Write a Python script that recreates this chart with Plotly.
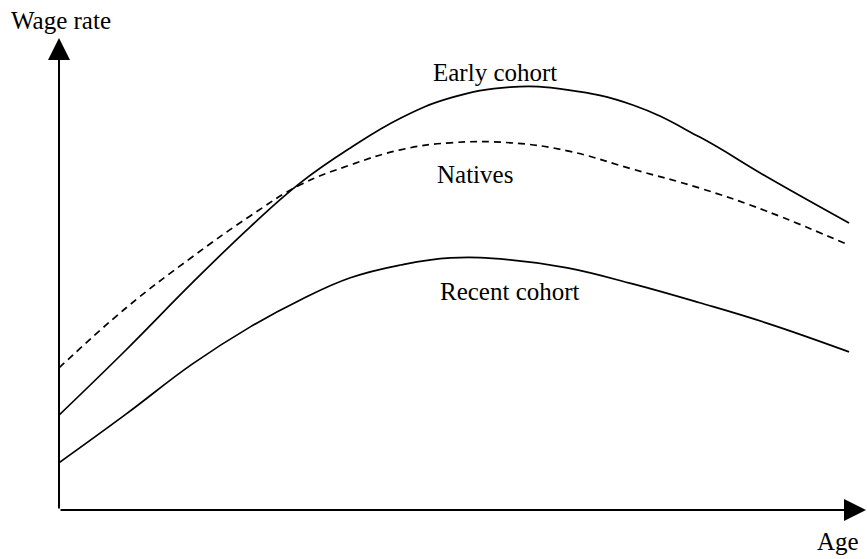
import plotly.graph_objects as go

# Age (arbitrary units, 0 = start of working life)
age = [0, 8.3, 16.5, 23.7, 29.9, 36.1, 42.3, 48.5, 55.9, 63.0, 71.1, 79.4, 87.7, 97.9]

# Wage rate profiles (arbitrary units)
early_cohort = [20.1, 33.9, 48.1, 60.0, 69.3, 76.7, 83.0, 87.3, 89.6, 89.0, 85.8, 79.0, 70.6, 60.8]
natives = [30.1, 42.8, 53.6, 62.3, 68.9, 73.1, 76.3, 77.8, 77.8, 76.1, 72.2, 68.2, 63.3, 56.1]
recent_cohort = [10.0, 20.3, 30.9, 38.8, 44.5, 49.2, 51.9, 53.4, 53.0, 51.3, 47.9, 43.9, 39.6, 33.5]

FONT = "Liberation Serif, Times New Roman, serif"

fig = go.Figure()

fig.add_trace(go.Scatter(x=age, y=early_cohort, mode="lines",
                         line=dict(color="black", width=1.7, shape="spline", smoothing=1.2),
                         name="Early cohort"))
fig.add_trace(go.Scatter(x=age, y=natives, mode="lines",
                         line=dict(color="black", width=1.7, dash="7px,5px", shape="spline", smoothing=1.2),
                         name="Natives"))
fig.add_trace(go.Scatter(x=age, y=recent_cohort, mode="lines",
                         line=dict(color="black", width=1.7, shape="spline", smoothing=1.2),
                         name="Recent cohort"))

# axes drawn as arrows
for x0, y0, x1, y1 in [(0, 0, 0, 100), (0, 0, 100, 0)]:
    fig.add_annotation(x=x1, y=y1, ax=x0, ay=y0, xref="x", yref="y", axref="x", ayref="y",
                       text="", showarrow=True, arrowhead=2, arrowsize=2.2,
                       arrowwidth=2, arrowcolor="black", standoff=0)

# axis titles (outside the plot area -> paper coords)
fig.add_annotation(x=0.0025, y=1.038, xref="paper", yref="paper", text="Wage rate",
                   xanchor="center", yanchor="middle", showarrow=False,
                   font=dict(family=FONT, size=25, color="black"))
fig.add_annotation(x=0.965, y=-0.066, xref="paper", yref="paper", text="Age",
                   xanchor="center", yanchor="middle", showarrow=False,
                   font=dict(family=FONT, size=25, color="black"))

labels = [
    ("Early cohort", 54.0, 92.6),
    ("Natives", 51.5, 71.0),
    ("Recent cohort", 55.9, 46.2),
]
for txt, x, y in labels:
    fig.add_annotation(x=x, y=y, xref="x", yref="y", text=txt, showarrow=False,
                       font=dict(family=FONT, size=25, color="black"))

fig.update_layout(
    width=867,
    height=559,
    paper_bgcolor="white",
    plot_bgcolor="white",
    showlegend=False,
    margin=dict(l=59, r=1, t=38, b=49),
    xaxis=dict(range=[0, 100], visible=False, showgrid=False, zeroline=False),
    yaxis=dict(range=[0, 100], visible=False, showgrid=False, zeroline=False),
)

fig.write_html("out.html", config={"displayModeBar": False},
               post_script="document.body.style.margin='0px';")
